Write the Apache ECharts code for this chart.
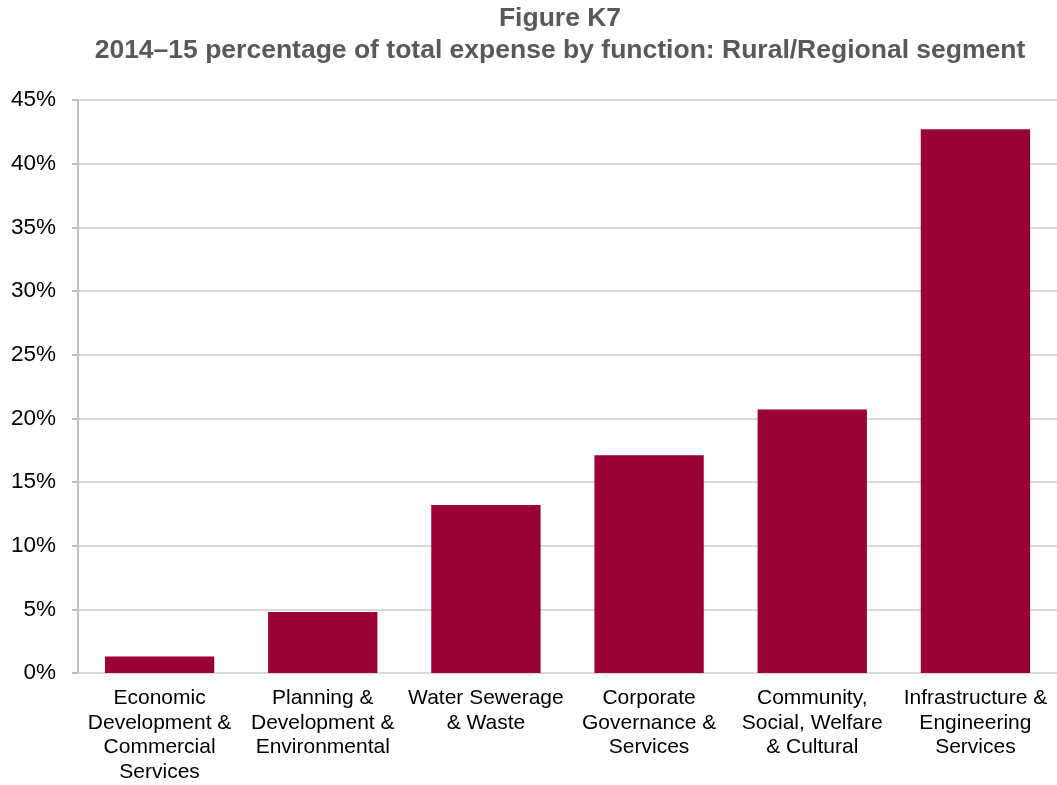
<!DOCTYPE html>
<html>
<head>
<meta charset="utf-8">
<script src="https://cdn.jsdelivr.net/npm/echarts@6/dist/echarts.min.js"></script>
<style>html,body{margin:0;padding:0;background:#fff}#c{width:1057px;height:785px}</style>
</head>
<body>
<div id="c"></div>
<script>
const categories = [
  'Economic\nDevelopment &\nCommercial\nServices',
  'Planning &\nDevelopment &\nEnvironmental',
  'Water Sewerage\n& Waste',
  'Corporate\nGovernance &\nServices',
  'Community,\nSocial, Welfare\n& Cultural',
  'Infrastructure &\nEngineering\nServices'
];
const values = [1.3, 4.8, 13.2, 17.1, 20.7, 42.7];
const titleLine1 = 'Figure K7';
const titleLine2 = '2014–15 percentage of total expense by function: Rural/Regional segment';

const chart = echarts.init(document.getElementById('c'));
chart.setOption({
  animation: false,
  title: {
    text: titleLine1 + '\n' + titleLine2,
    left: 560, top: 3, textAlign: 'center', padding: 0,
    textStyle: { fontFamily: 'Liberation Sans, Arial', fontWeight: 'bold', fontSize: 26.5, color: '#595959', lineHeight: 32 }
  },
  grid: { left: 78, right: 0, top: 100, bottom: 112, containLabel: false },
  xAxis: {
    type: 'category', data: categories,
    axisLine: { lineStyle: { color: '#d9d9d9', width: 2 } },
    axisTick: { show: false },
    axisLabel: { interval: 0, fontFamily: 'Liberation Sans, Arial', fontSize: 21, color: '#000', lineHeight: 24.5, margin: 13 }
  },
  yAxis: {
    type: 'value', min: 0, max: 45, interval: 5,
    axisLine: { show: true, lineStyle: { color: '#bfbfbf', width: 2 } },
    axisTick: { show: true, length: 6, lineStyle: { color: '#bfbfbf', width: 2 } },
    splitLine: { lineStyle: { color: '#d9d9d9', width: 2 } },
    axisLabel: { formatter: '{value}%', fontFamily: 'Liberation Sans, Arial', fontSize: 22.5, color: '#000', margin: 22 }
  },
  series: [{
    type: 'bar', data: values, barCategoryGap: '33%',
    itemStyle: { color: '#990033' }
  }]
});
</script>
</body>
</html>
